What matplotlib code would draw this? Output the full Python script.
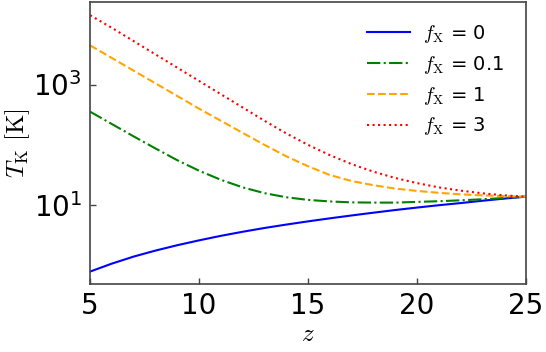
import matplotlib
matplotlib.use("Agg")
import matplotlib.pyplot as plt

plt.rcParams['mathtext.fontset'] = 'cm'

# redshift grid
z = [5, 6, 7, 8, 9, 10, 11, 12, 13, 14, 15, 16, 17, 18, 19, 20, 21, 22, 23, 24, 25]

# gas kinetic temperature [K] for each X-ray efficiency
T_fx0 = [0.79, 1.07, 1.40, 1.76, 2.16, 2.60, 3.09, 3.61, 4.17, 4.75, 5.37,
         6.03, 6.73, 7.48, 8.28, 9.10, 9.95, 10.8, 11.8, 12.8, 13.8]
T_fx01 = [355, 221, 138, 87.1, 55.6, 37.2, 26.3, 19.7, 15.8, 13.5, 12.2,
          11.5, 11.1, 11.0, 11.0, 11.3, 11.6, 12.0, 12.5, 13.1, 13.8]
T_fx1 = [4467, 2754, 1698, 1047, 646, 398, 251, 158, 100, 64.6, 44.2,
         31.6, 25.1, 21.4, 18.8, 17.2, 16.0, 15.1, 14.5, 14.1, 13.8]
T_fx3 = [14125, 8710, 5248, 3162, 1905, 1148, 692, 417, 251, 155, 100,
         67.6, 47.9, 35.9, 28.2, 23.2, 19.7, 17.4, 15.7, 14.5, 13.8]

labels = [r'$f_{\rm X}$ = 0', r'$f_{\rm X}$ = 0.1', r'$f_{\rm X}$ = 1', r'$f_{\rm X}$ = 3']

fig = plt.figure(figsize=(5.46, 3.52), dpi=100)
ax = fig.add_axes([0.165, 0.193, 0.798, 0.802])

ax.plot(z, T_fx0, color='b', ls='-', lw=1.5, label=labels[0])
ax.plot(z, T_fx01, color='g', ls='-.', lw=1.5, label=labels[1])
ax.plot(z, T_fx1, color='orange', ls='--', lw=1.5, label=labels[2])
ax.plot(z, T_fx3, color='r', ls=':', lw=1.5, label=labels[3])

ax.set_yscale('log')
ax.set_xlim(5, 25)
ax.set_ylim(0.49, 2.36e4)
ax.set_xticks([5, 10, 15, 20, 25])
ax.set_yticks([10, 1000])
ax.yaxis.set_minor_locator(matplotlib.ticker.NullLocator())

ax.tick_params(direction='in', length=4, width=1, labelsize=20, pad=6,
               colors='#444444', labelcolor='black')
for s in ax.spines.values():
    s.set_color('#444444')
    s.set_linewidth(1.2)

ax.set_xlabel(r'$z$', fontsize=18, labelpad=1)
ax.set_ylabel(r'$T_{\rm K}\ [{\rm K}]$', fontsize=18, labelpad=1)

ax.legend(loc='upper right', frameon=False, fontsize=14, handlelength=2.2,
          handletextpad=0.7, labelspacing=0.45, borderaxespad=0.7)

plt.savefig("out.png")
